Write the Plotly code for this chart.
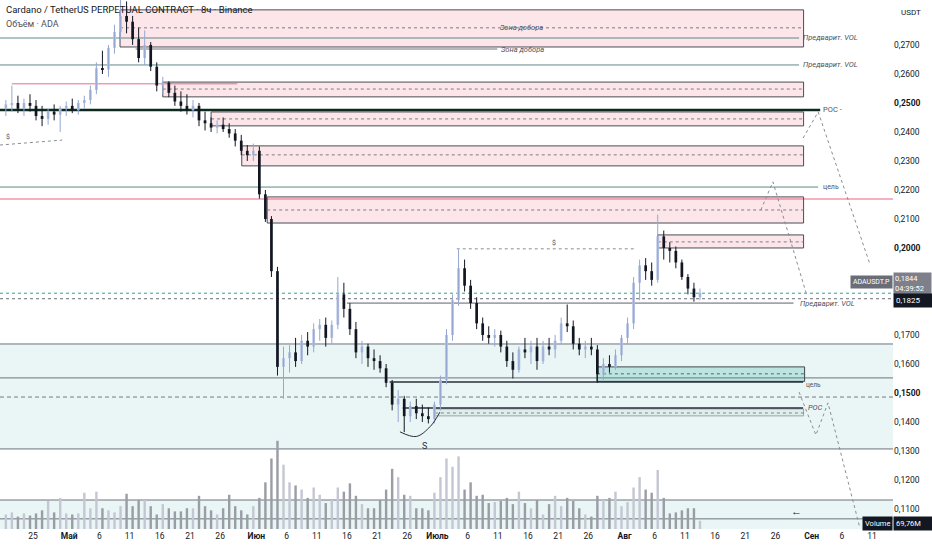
import pandas as pd
import plotly.graph_objects as go

# ADA/USDT perpetual, one candle per day (20 Apr - 13 Aug)
dates = pd.date_range("2023-04-20 12:00", periods=116, freq="D")

open_p = [
    0.2480, 0.2495, 0.2500, 0.2480, 0.2500, 0.2490, 0.2455, 0.2445, 0.2470, 0.2460,
    0.2480, 0.2490, 0.2475, 0.2500, 0.2510, 0.2545, 0.2620, 0.2615, 0.2690, 0.2745,
    0.2800, 0.2780, 0.2720, 0.2655, 0.2700, 0.2625, 0.2560, 0.2570, 0.2535, 0.2505,
    0.2490, 0.2475, 0.2490, 0.2440, 0.2430, 0.2415, 0.2425, 0.2410, 0.2395, 0.2370,
    0.2335, 0.2320, 0.2335, 0.2185, 0.2100, 0.1920, 0.1590, 0.1620, 0.1640, 0.1610,
    0.1680, 0.1660, 0.1720, 0.1735, 0.1690, 0.1735, 0.1840, 0.1790, 0.1720, 0.1640,
    0.1660, 0.1620, 0.1610, 0.1585, 0.1535, 0.1460, 0.1480, 0.1420, 0.1455, 0.1430,
    0.1420, 0.1410, 0.1460, 0.1545, 0.1700, 0.1820, 0.1930, 0.1870, 0.1810, 0.1740,
    0.1700, 0.1690, 0.1700, 0.1660, 0.1610, 0.1580, 0.1650, 0.1640, 0.1660, 0.1610,
    0.1660, 0.1650, 0.1680, 0.1740, 0.1730, 0.1670, 0.1650, 0.1660, 0.1650, 0.1565,
    0.1600, 0.1590, 0.1630, 0.1690, 0.1740, 0.1880, 0.1940, 0.1920, 0.1890, 0.2040,
    0.2000, 0.1990, 0.1950, 0.1900, 0.1860, 0.1830,
]
high_p = [
    0.2510, 0.2560, 0.2525, 0.2515, 0.2530, 0.2510, 0.2490, 0.2480, 0.2495, 0.2490,
    0.2505, 0.2515, 0.2510, 0.2525, 0.2560, 0.2640, 0.2680, 0.2700, 0.2770, 0.2855,
    0.2850, 0.2800, 0.2760, 0.2750, 0.2710, 0.2640, 0.2590, 0.2575, 0.2560, 0.2540,
    0.2530, 0.2510, 0.2500, 0.2470, 0.2450, 0.2440, 0.2450, 0.2430, 0.2410, 0.2390,
    0.2355, 0.2360, 0.2350, 0.2200, 0.2110, 0.1935, 0.1660, 0.1665, 0.1690, 0.1700,
    0.1710, 0.1740, 0.1755, 0.1760, 0.1750, 0.1900, 0.1880, 0.1810, 0.1745, 0.1680,
    0.1670, 0.1650, 0.1630, 0.1600, 0.1545, 0.1510, 0.1490, 0.1470, 0.1480, 0.1460,
    0.1450, 0.1470, 0.1560, 0.1720, 0.1840, 0.1995, 0.1960, 0.1890, 0.1830, 0.1760,
    0.1730, 0.1720, 0.1715, 0.1680, 0.1640, 0.1660, 0.1690, 0.1680, 0.1690, 0.1680,
    0.1690, 0.1700, 0.1760, 0.1805, 0.1750, 0.1690, 0.1680, 0.1690, 0.1665, 0.1620,
    0.1630, 0.1650, 0.1700, 0.1760, 0.1900, 0.1960, 0.1965, 0.1950, 0.2115, 0.2060,
    0.2020, 0.2005, 0.1960, 0.1910, 0.1880, 0.1860,
]
low_p = [
    0.2455, 0.2470, 0.2465, 0.2455, 0.2470, 0.2440, 0.2420, 0.2425, 0.2440, 0.2400,
    0.2455, 0.2465, 0.2460, 0.2480, 0.2495, 0.2530, 0.2600, 0.2590, 0.2670, 0.2720,
    0.2740, 0.2700, 0.2640, 0.2630, 0.2610, 0.2540, 0.2530, 0.2520, 0.2490, 0.2470,
    0.2460, 0.2450, 0.2420, 0.2405, 0.2400, 0.2395, 0.2400, 0.2380, 0.2350, 0.2320,
    0.2300, 0.2300, 0.2170, 0.2090, 0.1900, 0.1560, 0.1480, 0.1570, 0.1590, 0.1600,
    0.1630, 0.1640, 0.1680, 0.1660, 0.1670, 0.1720, 0.1760, 0.1700, 0.1620, 0.1600,
    0.1590, 0.1580, 0.1570, 0.1520, 0.1440, 0.1400, 0.1365, 0.1400, 0.1410, 0.1400,
    0.1395, 0.1395, 0.1440, 0.1530, 0.1680, 0.1800, 0.1850, 0.1790, 0.1720, 0.1680,
    0.1670, 0.1660, 0.1640, 0.1590, 0.1550, 0.1570, 0.1620, 0.1600, 0.1580, 0.1600,
    0.1630, 0.1620, 0.1670, 0.1710, 0.1650, 0.1630, 0.1620, 0.1630, 0.1535, 0.1545,
    0.1570, 0.1580, 0.1610, 0.1670, 0.1720, 0.1820, 0.1890, 0.1870, 0.1880, 0.1960,
    0.1950, 0.1930, 0.1890, 0.1840, 0.1815, 0.1820,
]
close_p = [
    0.2495, 0.2500, 0.2480, 0.2500, 0.2490, 0.2455, 0.2445, 0.2470, 0.2460, 0.2480,
    0.2490, 0.2475, 0.2500, 0.2510, 0.2545, 0.2620, 0.2615, 0.2690, 0.2745, 0.2800,
    0.2780, 0.2720, 0.2655, 0.2700, 0.2625, 0.2560, 0.2570, 0.2535, 0.2505, 0.2490,
    0.2475, 0.2490, 0.2440, 0.2430, 0.2415, 0.2425, 0.2410, 0.2395, 0.2370, 0.2335,
    0.2320, 0.2335, 0.2185, 0.2100, 0.1920, 0.1590, 0.1620, 0.1640, 0.1610, 0.1680,
    0.1660, 0.1720, 0.1735, 0.1690, 0.1735, 0.1840, 0.1790, 0.1720, 0.1640, 0.1660,
    0.1620, 0.1610, 0.1585, 0.1535, 0.1460, 0.1480, 0.1420, 0.1455, 0.1430, 0.1420,
    0.1410, 0.1460, 0.1545, 0.1700, 0.1820, 0.1930, 0.1870, 0.1810, 0.1740, 0.1700,
    0.1690, 0.1700, 0.1660, 0.1610, 0.1580, 0.1650, 0.1640, 0.1660, 0.1610, 0.1660,
    0.1650, 0.1680, 0.1740, 0.1730, 0.1670, 0.1650, 0.1660, 0.1650, 0.1565, 0.1600,
    0.1590, 0.1630, 0.1690, 0.1740, 0.1880, 0.1940, 0.1920, 0.1890, 0.2040, 0.2000,
    0.1990, 0.1950, 0.1900, 0.1860, 0.1830, 0.1844,
]
volume_m = [
    420, 480, 360, 450, 390, 450, 540, 810, 480, 900,
    450, 420, 450, 1050, 600, 1080, 600, 540, 480, 660,
    1020, 660, 840, 840, 660, 420, 720, 600, 510, 510,
    600, 600, 960, 660, 540, 420, 600, 990, 660, 540,
    420, 660, 900, 1350, 2040, 2550, 1860, 1350, 1260, 1140,
    900, 1200, 990, 750, 840, 1200, 1080, 1320, 960, 720,
    600, 600, 840, 1140, 1740, 1500, 990, 960, 600, 600,
    540, 1050, 1500, 2040, 1800, 2100, 1140, 1350, 960, 990,
    750, 780, 810, 900, 720, 1080, 750, 600, 840, 420,
    720, 960, 660, 900, 810, 600, 420, 360, 960, 840,
    900, 1080, 660, 780, 1200, 1500, 1140, 1050, 1710, 900,
    450, 480, 540, 600, 600, 240,
]
last_volume_label = "69,76M"
last_time_label = "04:39:52"
marked_price = 0.1825

# price scale / time scale labels
price_ticks = [0.11, 0.12, 0.13, 0.14, 0.15, 0.16, 0.17,
               0.20, 0.21, 0.22, 0.23, 0.24, 0.25, 0.26, 0.27]
price_tick_text = ["0,1100", "0,1200", "0,1300", "0,1400", "<b>0,1500</b>", "0,1600",
                   "0,1700", "<b>0,2000</b>", "0,2100", "0,2200",
                   "0,2300", "0,2400", "<b>0,2500</b>", "0,2600", "0,2700"]
time_ticks = ["2023-04-25", "2023-05-01", "2023-05-06", "2023-05-11", "2023-05-16",
              "2023-05-21", "2023-05-26", "2023-06-01", "2023-06-06", "2023-06-11",
              "2023-06-16", "2023-06-21", "2023-06-26", "2023-07-01", "2023-07-06",
              "2023-07-11", "2023-07-16", "2023-07-21", "2023-07-26", "2023-08-01",
              "2023-08-06", "2023-08-11", "2023-08-16", "2023-08-21", "2023-08-26",
              "2023-09-01", "2023-09-06", "2023-09-11"]
time_tick_text = ["25", "<b>Май</b>", "6", "11", "16", "21", "26", "<b>Июн</b>", "6", "11",
                  "16", "21", "26", "<b>Июль</b>", "6", "11", "16", "21", "26", "<b>Авг</b>",
                  "6", "11", "16", "21", "26", "<b>Сен</b>", "6", "11"]

# supply zones (pink boxes)
zone_start = ["2023-05-09 10:00", "2023-05-16 12:00", "2023-05-24 12:00",
              "2023-05-29 14:00", "2023-06-02 19:00", "2023-08-06 12:00"]
zone_top = [0.2821, 0.2572, 0.2469, 0.2352, 0.2176, 0.2045]
zone_bottom = [0.2693, 0.2521, 0.2421, 0.2283, 0.2086, 0.2000]
zone_mid = [0.2759, 0.2548, 0.2445, 0.2321, 0.2131, 0.2021]
zone_end = "2023-08-30 16:00"

# demand box + lower POC box
demand_box = ("2023-07-27 10:00", 0.1590, 0.1540, 0.1566)
poc_box = ("2023-06-30 14:00", 0.1445, 0.1421, 0.1431)

# horizontal levels
prelim_vol_upper = [0.2724, 0.2631]
prelim_vol_lower = 0.1810
zone_add_line = 0.2686
red_short_line = 0.2566
poc_upper = 0.2476
target_upper = 0.2210
red_level = 0.2169
liq_high = 0.1997
liq_left = [0.2355, 0.2372]
band_top, band_bottom = 0.1669, 0.1307
band_mid = 0.1552
dashed_level = 0.1486
target_lower = 0.1538
poc_lower = 0.1448
low_band_top, low_band_line = 0.1131, 0.1066

# projection paths drawn by hand
proj_a_x = ["2023-08-30 14:00", "2023-09-02 02:00", "2023-09-10 17:00"]
proj_a_y = [0.2379, 0.2469, 0.1941]
proj_b_x = ["2023-08-23 14:00", "2023-08-25 14:00", "2023-08-31 02:00"]
proj_b_y = [0.2131, 0.2228, 0.1845]
proj_c_x = ["2023-08-29 22:00", "2023-09-01 17:00", "2023-09-03 17:00", "2023-09-09 00:00"]
proj_c_y = [0.1503, 0.1355, 0.1466, 0.1034]
arc_x = ["2023-06-24 19:00", "2023-06-27 12:00", "2023-06-29 20:00", "2023-07-01 10:00"]
arc_y = [0.1366, 0.1350, 0.1385, 0.1434]

x_left, x_right = "2023-04-19 12:43", "2023-09-14 11:30"
y_bottom, y_top = 0.1031, 0.2855

FONT = "Roboto, 'Noto Sans', sans-serif"
LABEL = "#50535e"
DOT = "#8a8d96"
SHORT_DASH = "3px,3px"
UP_BODY, UP_WICK = "#b3c1e2", "#95a7d2"
DOWN = "#131722"
DAY_MS = 86400000

fig = go.Figure()

# volume at the bottom of the pane
vol_colors = ["#c4c7d3" if c >= o else "#9a9da5" for o, c in zip(open_p, close_p)]
fig.add_trace(go.Bar(
    x=dates, y=volume_m, yaxis="y2",
    marker=dict(color=vol_colors, line=dict(width=0)),
    width=0.4 * DAY_MS, hoverinfo="skip", showlegend=False
))

# candles: wicks as segments, bodies as narrow bars
for is_up, body_col, wick_col in [(True, UP_BODY, UP_WICK), (False, DOWN, DOWN)]:
    idx = [i for i in range(len(dates)) if (close_p[i] >= open_p[i]) == is_up]
    wx, wy = [], []
    for i in idx:
        wx += [dates[i], dates[i], None]
        wy += [low_p[i], high_p[i], None]
    fig.add_trace(go.Scatter(x=wx, y=wy, mode="lines", hoverinfo="skip", showlegend=False,
                             line=dict(color=wick_col, width=1)))
    fig.add_trace(go.Bar(
        x=[dates[i] for i in idx],
        y=[abs(close_p[i] - open_p[i]) for i in idx],
        base=[min(open_p[i], close_p[i]) for i in idx],
        width=0.45 * DAY_MS,
        marker=dict(color=body_col, line=dict(width=0)),
        hoverinfo="skip", showlegend=False
    ))

for px, py in [(proj_a_x, proj_a_y), (proj_b_x, proj_b_y), (proj_c_x, proj_c_y)]:
    fig.add_trace(go.Scatter(x=px, y=py, mode="lines", hoverinfo="skip", showlegend=False,
                             line=dict(color=DOT, width=1, dash="dot")))
fig.add_trace(go.Scatter(x=arc_x, y=arc_y, mode="lines", hoverinfo="skip", showlegend=False,
                         line=dict(color="#2a2e39", width=1, shape="spline")))
fig.add_trace(go.Scatter(x=[x_left, "2023-04-29 20:00"], y=liq_left, mode="lines",
                         hoverinfo="skip", showlegend=False,
                         line=dict(color=DOT, width=1, dash="dot")))

shapes = []


def seg(y, x0, x1, color, width=1, dash="solid", xref="x"):
    shapes.append(dict(type="line", xref=xref, yref="y", x0=x0, x1=x1, y0=y, y1=y,
                       line=dict(color=color, width=width, dash=dash), layer="below"))


def box(x0, x1, y0, y1, fill, border, xref="x"):
    shapes.append(dict(type="rect", xref=xref, yref="y", x0=x0, x1=x1, y0=y0, y1=y1,
                       fillcolor=fill, line=dict(color=border, width=1), layer="below"))


# teal bands
box(0, 1, band_bottom, band_top, "rgba(38,166,154,0.10)", "rgba(0,0,0,0)", xref="paper")
box(0, 1, 0.09, low_band_top, "rgba(38,166,154,0.10)", "rgba(0,0,0,0)", xref="paper")
for lv in [band_top, band_bottom, band_mid, low_band_top, low_band_line]:
    seg(lv, 0, 1, "#6f737c", xref="paper")
seg(dashed_level, 0, 1, "#787b86", dash="4px,3px", xref="paper")

# pink zones
for x0, t, b, m in zip(zone_start, zone_top, zone_bottom, zone_mid):
    box(x0, zone_end, b, t, "rgba(242,128,145,0.20)", "#4a4d55")
    seg(m, x0, zone_end, "#7a7d88", dash=SHORT_DASH)

# demand box and lower poc box
box(demand_box[0], "2023-08-30 20:00", demand_box[2], demand_box[1],
    "rgba(38,166,154,0.22)", "#3c4a48")
seg(demand_box[3], demand_box[0], "2023-08-30 20:00", "#4e6a66", dash=SHORT_DASH)
box(poc_box[0], "2023-08-30 16:00", poc_box[2], poc_box[1], "rgba(120,140,140,0.08)", "#9aa4a4")
seg(poc_box[3], poc_box[0], "2023-08-30 16:00", "#7b8888", dash=SHORT_DASH)

# level lines
for lv in prelim_vol_upper:
    seg(lv, x_left, "2023-08-29 22:00", "#5e8b86")
seg(zone_add_line, "2023-05-12 00:00", "2023-07-10 22:00", "#6f727a")
seg(red_short_line, "2023-04-21 12:00", "2023-05-28 20:00", "#e0708c")
seg(poc_upper, x_left, "2023-09-02 10:00", "#0c2a20", width=2.5)
seg(target_upper, x_left, "2023-09-02 02:00", "#5e8b86")
seg(red_level, 0, 1, "rgba(233,80,120,0.45)", width=2, xref="paper")
seg(liq_high, "2023-07-04 05:00", "2023-08-03 00:00", DOT, dash="dot")
seg(close_p[-1], 0, 1, "#26a69a", dash="dot", xref="paper")
seg(marked_price, 0, 1, "#6a6d78", dash="dot", xref="paper")
seg(prelim_vol_lower, "2023-06-16 00:00", "2023-08-29 00:00", "#5d6068")
seg(target_lower, "2023-06-23 02:00", "2023-08-30 14:00", "#2a2e39", width=1.5)
seg(poc_lower, "2023-06-25 06:00", "2023-08-30 14:00", "#2a2e39", width=1.5)


def note(x, y, text, size=7.5, color=LABEL, xanchor="left", yshift=0):
    fig.add_annotation(x=x, y=y, xref="x", yref="y", text=text, showarrow=False,
                       xanchor=xanchor, yanchor="middle", yshift=yshift,
                       font=dict(family=FONT, size=size, color=color))


note("2023-08-30 04:00", prelim_vol_upper[0], "<i>Предварит. VOL</i>")
note("2023-08-30 04:00", prelim_vol_upper[1], "<i>Предварит. VOL</i>")
note("2023-07-11 02:00", zone_mid[0], "<i>Зона добора</i>")
note("2023-07-11 06:00", zone_add_line, "<i>Зона добора</i>")
note("2023-09-02 12:00", poc_upper, "POC -")
note("2023-09-02 12:00", target_upper, "цель", size=7)
note("2023-08-29 16:00", prelim_vol_lower, "<i>Предварит. VOL</i>")
note("2023-08-30 16:00", target_lower, "цель", size=6.5, yshift=-3)
note("2023-08-31 00:00", poc_lower, "<i>POC</i>", yshift=1)
note("2023-07-20 08:00", liq_high, "$", size=7, xanchor="center", yshift=6)
note("2023-04-20 20:00", liq_left[1], "$", size=7, xanchor="center", yshift=3)
note("2023-06-28 22:00", arc_y[1], "S", size=9, color="#2a2e39", xanchor="center", yshift=-10)
note("2023-08-29 10:00", 0.1090, "<b>←</b>", size=11, color="#131722", xanchor="center")

# header
fig.add_annotation(x=0.005, y=0.982, xref="paper", yref="paper", showarrow=False,
                   xanchor="left", yanchor="middle",
                   text="Cardano / TetherUS PERPETUAL CONTRACT · 8ч · Binance",
                   font=dict(family=FONT, size=9.5, color="#131722"))
fig.add_annotation(x=0.005, y=0.955, xref="paper", yref="paper", showarrow=False,
                   xanchor="left", yanchor="middle", text="Объём · ADA",
                   font=dict(family=FONT, size=9, color="#50535e"))
fig.add_annotation(x=1.02, y=0.977, xref="paper", yref="paper", showarrow=False,
                   xanchor="center", yanchor="middle", text="USDT",
                   font=dict(family=FONT, size=8, color="#131722"))

# price scale badges
last_txt = f"{close_p[-1]:.4f}".replace(".", ",")
fig.add_annotation(x=1.0, y=close_p[-1], xref="paper", yref="y", showarrow=False,
                   xanchor="right", yanchor="middle", yshift=11, text="ADAUSDT.P",
                   bgcolor="#6a6d78", borderpad=2,
                   font=dict(family=FONT, size=7, color="white"))
fig.add_annotation(x=1.0, y=close_p[-1], xref="paper", yref="y", showarrow=False,
                   xanchor="left", yanchor="middle", yshift=10, width=35, align="left",
                   text=f"{last_txt}<br>{last_time_label}", bgcolor="#7d808a", borderpad=1,
                   font=dict(family=FONT, size=7.5, color="white"))
fig.add_annotation(x=1.0, y=marked_price, xref="paper", yref="y", showarrow=False,
                   xanchor="left", yanchor="middle", yshift=-2, width=35, align="left",
                   text=f"{marked_price:.4f}".replace(".", ","), bgcolor="#131722", borderpad=2,
                   font=dict(family=FONT, size=8, color="white"))
fig.add_annotation(x=1.0, y=0.01, xref="paper", yref="paper", showarrow=False,
                   xanchor="right", yanchor="middle", text="Volume",
                   bgcolor="#131722", borderpad=2,
                   font=dict(family=FONT, size=7.5, color="white"))
fig.add_annotation(x=1.0, y=0.01, xref="paper", yref="paper", showarrow=False,
                   xanchor="left", yanchor="middle", width=35, align="left",
                   text=last_volume_label, bgcolor="#131722", borderpad=2,
                   font=dict(family=FONT, size=7.5, color="white"))

fig.update_layout(
    width=932, height=550,
    margin=dict(l=0, r=39, t=0, b=21),
    paper_bgcolor="white", plot_bgcolor="white",
    separators=",.",
    font=dict(family=FONT, size=9, color="#131722"),
    showlegend=False, hovermode=False, barmode="overlay",
    shapes=shapes,
    xaxis=dict(type="date", range=[x_left, x_right], rangeslider=dict(visible=False),
               showgrid=False, zeroline=False, showline=False, ticks="",
               tickmode="array", tickvals=time_ticks, ticktext=time_tick_text,
               tickfont=dict(size=8.5, color="#131722")),
    yaxis=dict(side="right", range=[y_bottom, y_top], showgrid=False, zeroline=False,
               showline=False, ticks="", tickmode="array", tickvals=price_ticks,
               ticktext=price_tick_text, tickfont=dict(size=8.5, color="#131722")),
    yaxis2=dict(overlaying="y", range=[0, max(volume_m) * 6.0], visible=False),
)

# page body has a default margin; drop it so the figure sits at the window corner
fig.write_html("out.html", config={"displayModeBar": False},
               post_script="document.body.style.margin='0';")
